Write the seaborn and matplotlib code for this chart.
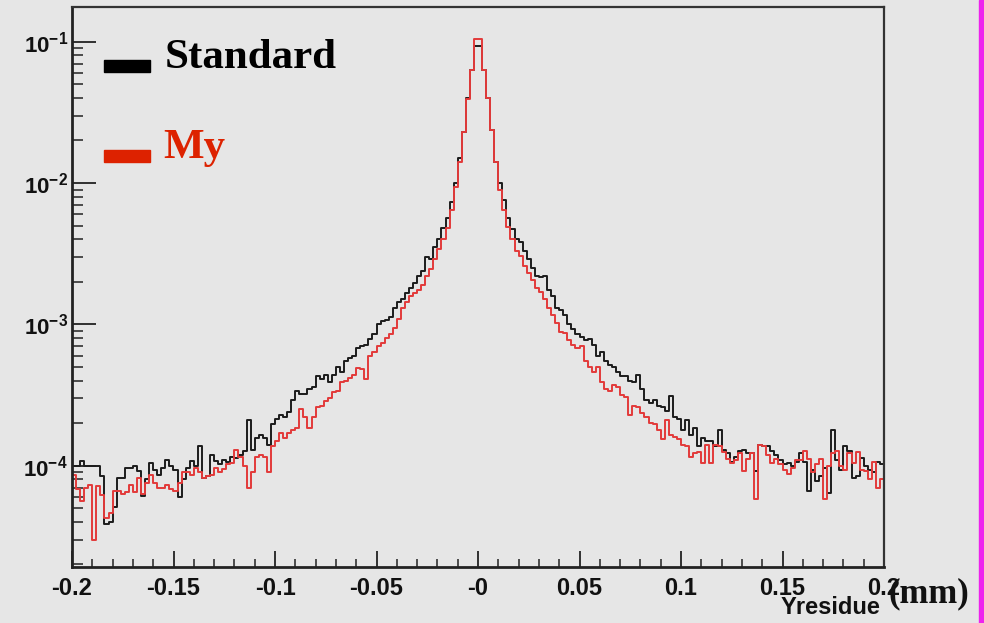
import numpy as np
import pandas as pd
import matplotlib
matplotlib.use("Agg")
import matplotlib.pyplot as plt
import seaborn as sns
from matplotlib.ticker import FixedLocator, LogLocator, NullFormatter
from matplotlib.patches import Rectangle

# Histogram range and binning (200 bins of 0.002 mm)
x_lo, x_hi, n_bins = -0.2, 0.2, 200

# Normalised bin contents, "Standard" reconstruction
standard = [
    1.0e-4, 1.0e-4, 1.08e-4, 1.0e-4, 1.0e-4, 1.0e-4, 1.0e-4, 8.4e-5, 3.9e-5, 4.0e-5,
    5.1e-5, 8.2e-5, 8.2e-5, 9.6e-5, 9.6e-5, 1.0e-4, 9.1e-5, 6.1e-5, 8.0e-5, 1.04e-4,
    9.4e-5, 8.6e-5, 9.7e-5, 1.1e-4, 1.0e-4, 9.4e-5, 6.0e-5, 8.0e-5, 9.7e-5, 1.08e-4,
    1.0e-4, 1.37e-4, 8.2e-5, 8.4e-5, 1.19e-4, 1.08e-4, 1.02e-4, 1.1e-4, 1.06e-4, 1.16e-4,
    1.13e-4, 1.19e-4, 1.28e-4, 2.1e-4, 1.3e-4, 1.58e-4, 1.65e-4, 1.58e-4, 1.4e-4, 1.96e-4,
    2.15e-4, 2.3e-4, 2.2e-4, 2.4e-4, 2.9e-4, 3.4e-4, 3.2e-4, 3.2e-4, 3.5e-4, 3.6e-4,
    4.3e-4, 4.1e-4, 4.4e-4, 3.9e-4, 4.4e-4, 5.0e-4, 4.6e-4, 5.5e-4, 5.8e-4, 6.0e-4,
    6.8e-4, 7.0e-4, 7.1e-4, 7.9e-4, 8.5e-4, 1.0e-3, 1.05e-3, 1.07e-3, 1.13e-3, 1.31e-3,
    1.45e-3, 1.5e-3, 1.67e-3, 1.8e-3, 1.97e-3, 2.2e-3, 2.4e-3, 3.0e-3, 2.9e-3, 3.55e-3,
    4.0e-3, 4.8e-3, 5.7e-3, 7.3e-3, 1.0e-2, 1.5e-2, 2.3e-2, 4.0e-2, 6.3e-2, 9.3e-2,
    9.3e-2, 6.3e-2, 4.0e-2, 2.37e-2, 1.42e-2, 1.0e-2, 7.6e-3, 5.7e-3, 4.7e-3, 4.0e-3,
    3.8e-3, 3.3e-3, 2.9e-3, 2.5e-3, 2.2e-3, 2.15e-3, 2.2e-3, 1.75e-3, 1.6e-3, 1.3e-3,
    1.27e-3, 1.17e-3, 1.0e-3, 9.2e-4, 8.5e-4, 8.2e-4, 7.8e-4, 7.9e-4, 7.2e-4, 6.0e-4,
    6.4e-4, 5.5e-4, 5.2e-4, 5.0e-4, 4.6e-4, 4.3e-4, 4.3e-4, 4.0e-4, 3.9e-4, 4.4e-4,
    3.5e-4, 2.9e-4, 2.8e-4, 2.9e-4, 2.65e-4, 2.6e-4, 2.45e-4, 3.1e-4, 2.2e-4, 2.15e-4,
    1.8e-4, 2.1e-4, 1.65e-4, 1.85e-4, 1.37e-4, 1.58e-4, 1.5e-4, 1.5e-4, 1.37e-4, 1.8e-4,
    1.3e-4, 1.22e-4, 1.07e-4, 1.16e-4, 1.28e-4, 1.3e-4, 1.22e-4, 1.22e-4, 9.1e-5, 1.4e-4,
    1.38e-4, 1.38e-4, 1.28e-4, 1.2e-4, 1.1e-4, 1.02e-4, 1.05e-4, 1.0e-4, 1.07e-4, 1.22e-4,
    1.07e-4, 6.6e-5, 9.4e-5, 7.8e-5, 8.4e-5, 9.7e-5, 6.4e-5, 1.8e-4, 1.1e-4, 9.4e-5,
    1.37e-4, 1.27e-4, 8.2e-5, 8.4e-5, 1.13e-4, 1.0e-4, 9.4e-5, 9.0e-5, 1.07e-4, 1.02e-4,
]

# Normalised bin contents, "My" reconstruction
my = [
    8.6e-5, 6.8e-5, 5.6e-5, 7.0e-5, 7.3e-5, 3.0e-5, 7.2e-5, 6.2e-5, 4.3e-5, 4.6e-5,
    6.6e-5, 6.6e-5, 6.3e-5, 6.5e-5, 7.3e-5, 6.5e-5, 8.2e-5, 6.3e-5, 7.6e-5, 8.6e-5,
    7.6e-5, 7.0e-5, 7.0e-5, 7.3e-5, 6.8e-5, 6.6e-5, 7.6e-5, 9.0e-5, 9.0e-5, 8.6e-5,
    9.7e-5, 9.0e-5, 8.2e-5, 8.4e-5, 8.6e-5, 9.6e-5, 9.0e-5, 9.5e-5, 1.02e-4, 1.05e-4,
    1.3e-4, 1.15e-4, 1.0e-4, 7.0e-5, 9.0e-5, 1.15e-4, 1.2e-4, 1.15e-4, 9.0e-5, 1.37e-4,
    1.5e-4, 1.7e-4, 1.58e-4, 1.7e-4, 1.8e-4, 1.85e-4, 2.5e-4, 2.2e-4, 1.85e-4, 2.2e-4,
    2.6e-4, 2.65e-4, 2.85e-4, 3.0e-4, 3.3e-4, 3.4e-4, 3.9e-4, 4.0e-4, 4.2e-4, 4.4e-4,
    4.9e-4, 4.8e-4, 4.1e-4, 6.0e-4, 6.4e-4, 7.0e-4, 7.4e-4, 8.0e-4, 8.5e-4, 9.5e-4,
    1.1e-3, 1.3e-3, 1.45e-3, 1.6e-3, 1.67e-3, 1.75e-3, 1.9e-3, 2.2e-3, 2.45e-3, 2.9e-3,
    3.4e-3, 4.0e-3, 4.8e-3, 6.4e-3, 9.3e-3, 1.42e-2, 2.3e-2, 3.9e-2, 6.3e-2, 1.05e-1,
    1.05e-1, 6.3e-2, 4.0e-2, 2.37e-2, 1.42e-2, 8.9e-3, 6.4e-3, 4.9e-3, 4.0e-3, 3.3e-3,
    3.05e-3, 2.6e-3, 2.3e-3, 2.07e-3, 1.8e-3, 1.7e-3, 1.5e-3, 1.3e-3, 1.17e-3, 1.02e-3,
    8.9e-4, 8.7e-4, 7.7e-4, 7.2e-4, 6.8e-4, 7.0e-4, 5.5e-4, 5.0e-4, 4.6e-4, 5.0e-4,
    3.9e-4, 3.5e-4, 3.4e-4, 3.7e-4, 3.6e-4, 3.15e-4, 3.05e-4, 2.3e-4, 2.65e-4, 2.6e-4,
    2.35e-4, 2.2e-4, 2.0e-4, 1.96e-4, 1.8e-4, 1.55e-4, 2.1e-4, 1.65e-4, 1.6e-4, 1.55e-4,
    1.4e-4, 1.37e-4, 1.16e-4, 1.22e-4, 1.25e-4, 1.05e-4, 1.4e-4, 1.05e-4, 1.4e-4, 1.37e-4,
    1.25e-4, 1.12e-4, 1.05e-4, 1.1e-4, 1.22e-4, 9.1e-5, 1.12e-4, 1.22e-4, 5.8e-5, 1.4e-4,
    1.37e-4, 1.2e-4, 1.05e-4, 1.12e-4, 1.02e-4, 9.4e-5, 8.7e-5, 9.7e-5, 1.1e-4, 1.1e-4,
    1.28e-4, 1.12e-4, 9.0e-5, 1.02e-4, 1.12e-4, 5.8e-5, 1.0e-4, 1.22e-4, 1.28e-4, 1.0e-4,
    9.4e-5, 1.22e-4, 1.05e-4, 1.25e-4, 9.4e-5, 9.1e-5, 8.0e-5, 1.07e-4, 7.0e-5, 8.0e-5,
]

xtick_values = [-0.2, -0.15, -0.1, -0.05, 0.0, 0.05, 0.1, 0.15, 0.2]
xtick_labels = ["-0.2", "-0.15", "-0.1", "-0.05", "-0", "0.05", "0.1", "0.15", "0.2"]
ytick_values = [1e-4, 1e-3, 1e-2, 1e-1]
ytick_labels = [r"$\mathbf{10^{-4}}$", r"$\mathbf{10^{-3}}$",
                r"$\mathbf{10^{-2}}$", r"$\mathbf{10^{-1}}$"]
series_names = ["Standard", "My"]
series_colors = {"Standard": "#1c1c1c", "My": "#e23a3a"}
legend_colors = {"Standard": "#000000", "My": "#dd2200"}

bg = "#e6e6e6"

sns.set_theme(style="white")
plt.rcParams["font.family"] = ["Liberation Sans", "DejaVu Sans"]
plt.rcParams["mathtext.fontset"] = "custom"
plt.rcParams["mathtext.bf"] = "Liberation Sans:bold"
plt.rcParams["mathtext.rm"] = "Liberation Sans"

edges = np.linspace(x_lo, x_hi, n_bins + 1)
centers = 0.5 * (edges[:-1] + edges[1:])
df = pd.DataFrame({
    "Yresidue": np.concatenate([centers, centers]),
    "content": np.concatenate([standard, my]),
    "series": ["Standard"] * n_bins + ["My"] * n_bins,
})

fig = plt.figure(figsize=(9.84, 6.23), dpi=100, facecolor=bg)
W, H = 984.0, 623.0
ax = fig.add_axes([72 / W, 1 - 567 / H, 812 / W, 560 / H])
ax.set_facecolor(bg)

for name in series_names:
    sns.histplot(data=df[df["series"] == name], x="Yresidue", weights="content",
                 bins=n_bins, binrange=(x_lo, x_hi), element="step", fill=False,
                 ax=ax, color=series_colors[name], linewidth=1.4)

ax.set_yscale("log")
ax.set_xlim(x_lo, x_hi)
ax.set_ylim(1.92e-5, 0.176)
ax.set_xlabel("")
ax.set_ylabel("")

# Axis ticks drawn inside the frame
ax.set_xticks(xtick_values)
ax.set_xticklabels(xtick_labels, fontsize=17, fontweight="bold")
ax.xaxis.set_minor_locator(FixedLocator(np.round(np.arange(-0.2, 0.2001, 0.01), 3)))
ax.set_yticks(ytick_values)
ax.set_yticklabels(ytick_labels, fontsize=16)
ax.yaxis.set_minor_locator(LogLocator(base=10, subs=np.arange(2, 10)))
ax.yaxis.set_minor_formatter(NullFormatter())
ax.tick_params(axis="x", which="major", direction="in", length=11.5, width=1.3,
               color="#222222", pad=7, bottom=True, top=False)
ax.tick_params(axis="x", which="minor", direction="in", length=6, width=1.1,
               color="#222222", bottom=True, top=False)
ax.tick_params(axis="y", which="major", direction="in", length=17, width=1.3,
               color="#222222", pad=3, left=True, right=False)
ax.tick_params(axis="y", which="minor", direction="in", length=8, width=1.1,
               color="#222222", left=True, right=False)
for lbl in ax.get_xticklabels() + ax.get_yticklabels():
    lbl.set_color("#111111")

for side in ["left", "bottom"]:
    ax.spines[side].set_linewidth(2.0)
    ax.spines[side].set_color("#222222")
for side in ["top", "right"]:
    ax.spines[side].set_linewidth(1.6)
    ax.spines[side].set_color("#333333")

# Legend: colour bars with large serif labels
legend_rows = [("Standard", 66), ("My", 156)]
for name, yc in legend_rows:
    fig.patches.append(Rectangle((104 / W, 1 - (yc + 6) / H), 46 / W, 12 / H,
                                 transform=fig.transFigure,
                                 color=legend_colors[name], zorder=5))
fig.text(165 / W, 1 - 68 / H, "Standard", family="Liberation Serif", fontweight="bold",
         fontsize=31, color=legend_colors["Standard"], ha="left", va="baseline")
fig.text(163 / W, 1 - 158 / H, "My", family="Liberation Serif", fontweight="bold",
         fontsize=31, color=legend_colors["My"], ha="left", va="baseline")

# Axis title and unit
fig.text(880 / W, 1 - 608 / H, "Yresidue", fontsize=17, fontweight="bold",
         color="#111111", ha="right", va="center")
fig.text(888 / W, 1 - 594 / H, "(mm)", family="Liberation Serif", fontweight="bold",
         fontsize=25, color="#111111", ha="left", va="center")

# Magenta border strip on the right edge
fig.patches.append(Rectangle((979 / W, 0), 5 / W, 1, transform=fig.transFigure,
                             color="#ee22ee", zorder=6))

fig.savefig("out.png", dpi=100, facecolor=bg)
